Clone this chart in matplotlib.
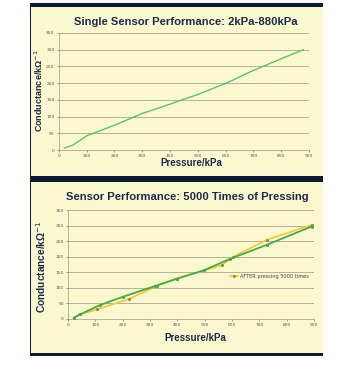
import matplotlib
matplotlib.use("Agg")
import matplotlib.pyplot as plt
from matplotlib.patches import Rectangle

# Top chart data
p1 = [20, 50, 100, 200, 300, 400, 450, 500, 600, 700, 800, 880]
g1 = [6, 14, 42, 74, 109, 137, 152, 166, 199, 238, 273, 300]

# Bottom chart data
p_before = [21, 45, 118, 203, 319, 400, 496, 593, 727, 891]
g_before = [4, 15, 45, 72, 106, 130, 156, 193, 238, 297]
p_after = [21, 45, 106, 222, 325, 400, 563, 605, 727, 891]
g_after = [4, 15, 31, 64, 106, 130, 173, 200, 254, 302]

xticks = [0, 100, 200, 300, 400, 500, 600, 700, 800, 900]
yticks = [0, 50, 100, 150, 200, 250, 300, 350]

W, H = 353, 373
fig = plt.figure(figsize=(W / 100, H / 100), dpi=100)
fig.patch.set_facecolor("white")

def frect(x0, y0, x1, y1, color, z):
    fig.patches.append(Rectangle((x0 / W, 1 - y1 / H), (x1 - x0) / W, (y1 - y0) / H,
                                 transform=fig.transFigure, facecolor=color,
                                 edgecolor="none", zorder=z))

navy = "#0d1a33"
paper = "#fbf8cf"
frect(30, 3, 323, 356, navy, -3)
frect(31, 7, 323, 176, paper, -2)
frect(31, 182, 323, 353, paper, -2)

txt = "#1b2b4d"
green = "#5cc468"
green2 = "#3eac4c"
yellow = "#f5c82a"
FONT = ["Liberation Sans", "DejaVu Sans"]

def style(ax):
    ax.set_facecolor("none")
    ax.set_xlim(0, 900)
    ax.set_ylim(0, 350)
    ax.set_xticks(xticks)
    ax.set_yticks(yticks)
    ax.tick_params(labelsize=3.2, length=1.5, width=0.4, colors="#555555", pad=1.5)
    ax.grid(axis="y", color="#a9a794", linewidth=0.6)
    ax.set_axisbelow(True)
    for s in ["top", "right"]:
        ax.spines[s].set_visible(False)
    for s in ["left", "bottom"]:
        ax.spines[s].set_color("#9a9888")
        ax.spines[s].set_linewidth(0.5)

ax1 = fig.add_axes([58.7 / W, 1 - 150 / H, (309 - 58.7) / W, (150 - 33) / H])
style(ax1)
ax1.plot(p1, g1, color=green, linewidth=1.0)
fig.text(186 / W, 1 - 22 / H, "Single Sensor Performance: 2kPa-880kPa", ha="center", va="center",
         fontsize=8.1, fontweight="bold", color=txt, family=FONT)
fig.text(191 / W, 1 - 163 / H, "Pressure/kPa", ha="center", va="center",
         fontsize=7, fontweight="bold", color=txt, family=FONT)
fig.text(39 / W, 1 - 91 / H, "Conductance/kΩ$^{-1}$", ha="center", va="center", rotation=90,
         fontsize=6.5, fontweight="bold", color=txt, family=FONT)

ax2 = fig.add_axes([68 / W, 1 - 319 / H, (314 - 68) / W, (319 - 210) / H])
style(ax2)
ax2.plot(p_before, g_before, color=green2, linewidth=1.3, marker="o", markersize=1.2, zorder=3)
ax2.plot(p_after, g_after, color=yellow, linewidth=1.2, marker="o", markersize=1.2,
         markeredgecolor="#9a8a30", label="AFTER pressing 5000 times", zorder=2)
leg = ax2.legend(loc="center left", bbox_to_anchor=(0.64, 0.39), frameon=False,
                 fontsize=3.6, handlelength=1.6, handletextpad=0.5)
for t in leg.get_texts():
    t.set_color("#444444")
fig.text(187 / W, 1 - 197 / H, "Sensor Performance: 5000 Times of Pressing", ha="center", va="center",
         fontsize=8.1, fontweight="bold", color=txt, family=FONT)
fig.text(195 / W, 1 - 338 / H, "Pressure/kPa", ha="center", va="center",
         fontsize=7, fontweight="bold", color=txt, family=FONT)
fig.text(41 / W, 1 - 267 / H, "Conductance/kΩ$^{-1}$", ha="center", va="center", rotation=90,
         fontsize=7.3, fontweight="bold", color=txt, family=FONT)

fig.savefig("out.png", dpi=100, facecolor=fig.get_facecolor())
